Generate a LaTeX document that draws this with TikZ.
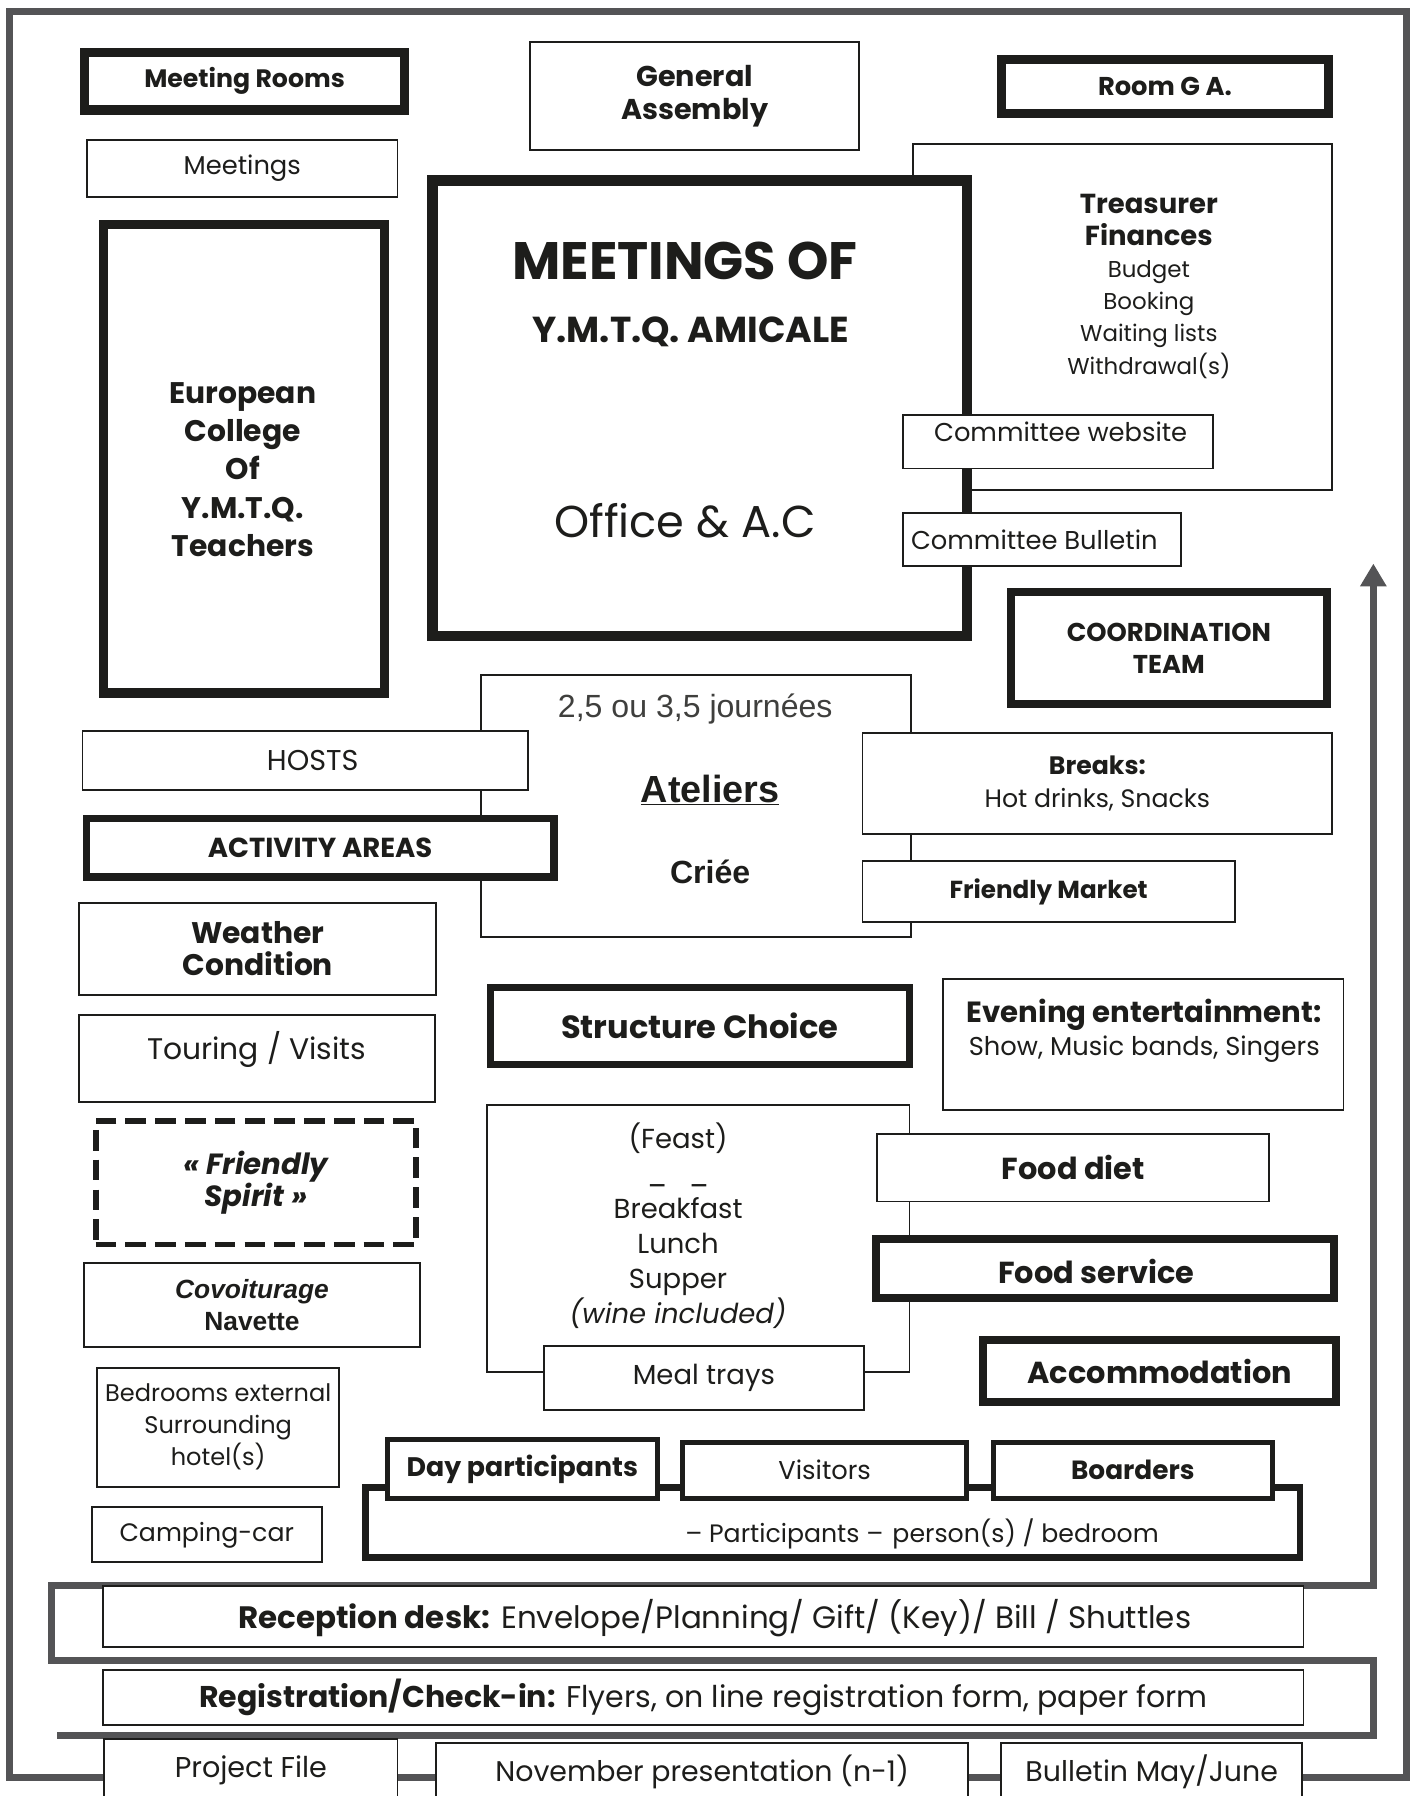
\documentclass[tikz,border=0pt]{standalone}
\usepackage{fontspec}
\setmainfont{Poppins}
\newfontfamily\arialfont{Liberation Sans}
\usetikzlibrary{arrows.meta}
\definecolor{ink}{HTML}{1D1D1B}
\definecolor{framegray}{HTML}{545456}
\newcommand{\fsz}[2]{\fontsize{#1pt}{#2pt}\selectfont}

\begin{document}
\begin{tikzpicture}[x=1pt,y=-1pt,
    thinbox/.style={draw=ink, line width=1.6pt, fill=white, inner sep=0pt, align=center, text=ink},
    midbox/.style={thinbox, line width=4.5pt},
    thickbox/.style={thinbox, line width=7pt},
    heavybox/.style={thinbox, line width=9pt},
    dashbox/.style={thinbox, line width=5pt, dash pattern=on 18pt off 8pt},
    txt/.style={inner sep=0pt, align=center, text=ink},
    guide/.style={draw=framegray, line width=6pt}]

    \useasboundingbox (0,0) rectangle (1234,1568);

    % Outer frame
    \draw[guide] (8,10) rectangle (1228,1552);

    % Guide round reception and registration, up to the arrow
    \coordinate (gstart) at (50,1515);
    \coordinate (arrowtip) at (1199,492);
    \draw[guide, -{Triangle[width=22pt,length=20pt]}] (gstart) -- (1199,1515) -- (1199,1450) -- (45,1450) -- (45,1384) -- (1199,1384) -- (arrowtip);

    % Top row
    \node[thickbox, line width=8pt, minimum width=279, minimum height=50, font=\fsz{22}{26}\bfseries] (rooms) at (213.5,71) {Meeting Rooms};
    \node[thinbox, minimum width=287, minimum height=94, font=\fsz{25}{29}\bfseries] (assembly) at (606.5,84) {General\\Assembly};
    \node[thickbox, line width=8pt, minimum width=286, minimum height=47, font=\fsz{22.5}{26}\bfseries] (roomga) at (1017,75.5) {Room G A.};
    \node[thinbox, minimum width=271, minimum height=50, font=\fsz{22.5}{26}] (meetings) at (211.5,147) {Meetings};

    % Treasurer, behind the main box
    \node[thinbox, minimum width=366, minimum height=302] (treasurer) at (980,277) {};
    \node[txt, font=\fsz{20}{28}] (finances) at (1003,250) {{\fsz{24}{28}\bfseries Treasurer}\\{\fsz{24}{28}\bfseries Finances}\\Budget\\Booking\\Waiting lists\\Withdrawal(s)};

    % Main box
    \node[heavybox, minimum width=467, minimum height=398] (main) at (611,356.5) {};
    \node[txt, font=\fsz{46}{52}\bfseries] (title) at (598,228) {MEETINGS OF};
    \node[txt, font=\fsz{31.5}{36}\bfseries] (amicale) at (603,290) {Y.M.T.Q. AMICALE};
    \node[txt, font=\fsz{39}{44}] (office) at (598,455) {Office \& A.C};

    \node[thinbox, minimum width=271, minimum height=47] (website) at (923.5,385.5) {};
    \node[txt, font=\fsz{22.5}{26}] (websitetxt) at (926,377) {Committee website};
    \node[thinbox, minimum width=243, minimum height=46] (bulletin) at (909.5,471) {};
    \node[txt, font=\fsz{22.5}{26}] (bulletintxt) at (903,471) {Committee Bulletin};

    % European college
    \node[heavybox, line width=8pt, minimum width=246, minimum height=409] (college) at (213,400.5) {};
    \node[txt, font=\fsz{26}{33.3}\bfseries] (collegetxt) at (212,410) {European\\College\\Of\\Y.M.T.Q.\\Teachers};

    \node[thickbox, minimum width=276, minimum height=98, font=\fsz{22.5}{28}\bfseries] (coord) at (1020.5,566) {COORDINATION\\TEAM};

    % Ateliers
    \node[thinbox, minimum width=375, minimum height=229] (ateliers) at (607.5,703.5) {};
    \node[txt, font=\arialfont\fsz{28}{32}, text=ink!85] (days) at (607,619) {2,5 ou 3,5 journées};
    \node[txt, font=\arialfont\fsz{33}{36}\bfseries] (atelierstxt) at (620,690) {\underline{Ateliers}};
    \node[txt, font=\arialfont\fsz{28}{32}\bfseries] (criee) at (620,761) {Criée};

    \node[thinbox, minimum width=389, minimum height=52] (hosts) at (266.5,664) {};
    \node[txt, font=\fsz{25}{29}] (hoststxt) at (273,664) {HOSTS};
    \node[thickbox, line width=6.5pt, minimum width=408, minimum height=51, font=\fsz{24}{28}\bfseries] (activity) at (279.5,740) {ACTIVITY AREAS};
    \node[thinbox, minimum width=410, minimum height=88, font=\fsz{22}{28}] (breaks) at (958,684) {\textbf{Breaks:}\\Hot drinks, Snacks};
    \node[thinbox, minimum width=325, minimum height=53, font=\fsz{21.5}{25}\bfseries] (market) at (915.5,778.5) {Friendly Market};

    % Left column
    \node[thinbox, minimum width=312, minimum height=81, font=\fsz{26}{28}\bfseries] (weather) at (225,828.5) {Weather\\Condition};
    \node[thinbox, minimum width=311, minimum height=76] (touring) at (224.5,924) {};
    \node[txt, font=\fsz{26}{30}] (touringtxt) at (224,916) {Touring / Visits};
    \node[dashbox, minimum width=280, minimum height=108, font=\fsz{25.5}{28}\bfseries\itshape] (spirit) at (223.5,1032.5) {« Friendly\\Spirit »};
    \node[thinbox, minimum width=294, minimum height=73, font=\arialfont\fsz{23}{28}\bfseries] (covoit) at (220,1139.5) {\textit{Covoiturage}\\Navette};
    \node[thinbox, minimum width=211, minimum height=104, font=\fsz{21}{28}] (bedrooms) at (190.5,1246) {Bedrooms external\\Surrounding\\hotel(s)};
    \node[thinbox, minimum width=201, minimum height=48, font=\fsz{22}{26}] (camping) at (180.5,1340) {Camping-car};

    % Middle
    \node[thickbox, line width=6pt, minimum width=366, minimum height=67, font=\fsz{28}{32}\bfseries] (structure) at (611,895.5) {Structure Choice};
    \node[thinbox, minimum width=350, minimum height=114] (evening) at (998,912) {};
    \node[txt, font=\fsz{22.5}{29}] (eveningtxt) at (999,900) {{\fsz{25.5}{29}\bfseries Evening entertainment:}\\Show, Music bands, Singers};

    % Meals
    \node[thinbox, minimum width=369, minimum height=233] (feast) at (609.5,1081.5) {};
    \node[txt, font=\fsz{24}{30.6}] (meals) at (592,1070) {(Feast)\\\_\hspace{19pt}\_\\Breakfast\\Lunch\\Supper\\\textit{(wine included)}};
    \node[thinbox, minimum width=342, minimum height=59, font=\fsz{26.5}{30}\bfseries] (diet) at (937,1019.5) {Food diet};
    \node[thickbox, minimum width=400, minimum height=52] (service) at (964.5,1107.5) {};
    \node[txt, font=\fsz{26.5}{30}\bfseries] (servicetxt) at (957,1110) {Food service};
    \node[thinbox, minimum width=279, minimum height=56, font=\fsz{24}{28}] (trays) at (614.5,1203) {Meal trays};
    \node[thickbox, minimum width=308, minimum height=54, font=\fsz{26.5}{30}\bfseries] (accom) at (1012.5,1197) {Accommodation};

    % Participants
    \node[thickbox, line width=6pt, minimum width=816, minimum height=61] (participants) at (727,1329.5) {};
    \node[txt, font=\fsz{22}{26}] (participantstxt) at (805,1339) {– Participants –\hspace{8pt}person(s) / bedroom};
    \node[midbox, minimum width=236, minimum height=51, font=\fsz{23.4}{27}\bfseries] (day) at (456,1282.5) {Day participants};
    \node[midbox, minimum width=248, minimum height=49, font=\fsz{22.5}{26}] (visitors) at (720,1283.5) {Visitors};
    \node[midbox, minimum width=244, minimum height=49, font=\fsz{23}{27}\bfseries] (boarders) at (989,1283.5) {Boarders};

    % Reception and registration
    \node[thinbox, minimum width=1048, minimum height=53] (reception) at (614,1411.5) {};
    \node[txt, font=\fsz{27}{31}] (receptiontxt) at (624,1413) {\textbf{Reception desk:} Envelope/Planning/ Gift/ (Key)/ Bill / Shuttles};
    \node[thinbox, minimum width=1048, minimum height=48, font=\fsz{26.2}{30}] (registration) at (614,1482) {\textbf{Registration/Check-in:} Flyers, on line registration form, paper form};

    % Bottom row
    \node[thinbox, minimum width=256, minimum height=56, font=\fsz{25}{29}] (project) at (219,1546) {Project File};
    \node[thinbox, minimum width=464, minimum height=50, font=\fsz{24.8}{29}] (november) at (613,1547) {November presentation (n-1)};
    \node[thinbox, minimum width=263, minimum height=50, font=\fsz{24.8}{29}] (bulletinmj) at (1005.5,1547) {Bulletin May/June};
\end{tikzpicture}
\end{document}
